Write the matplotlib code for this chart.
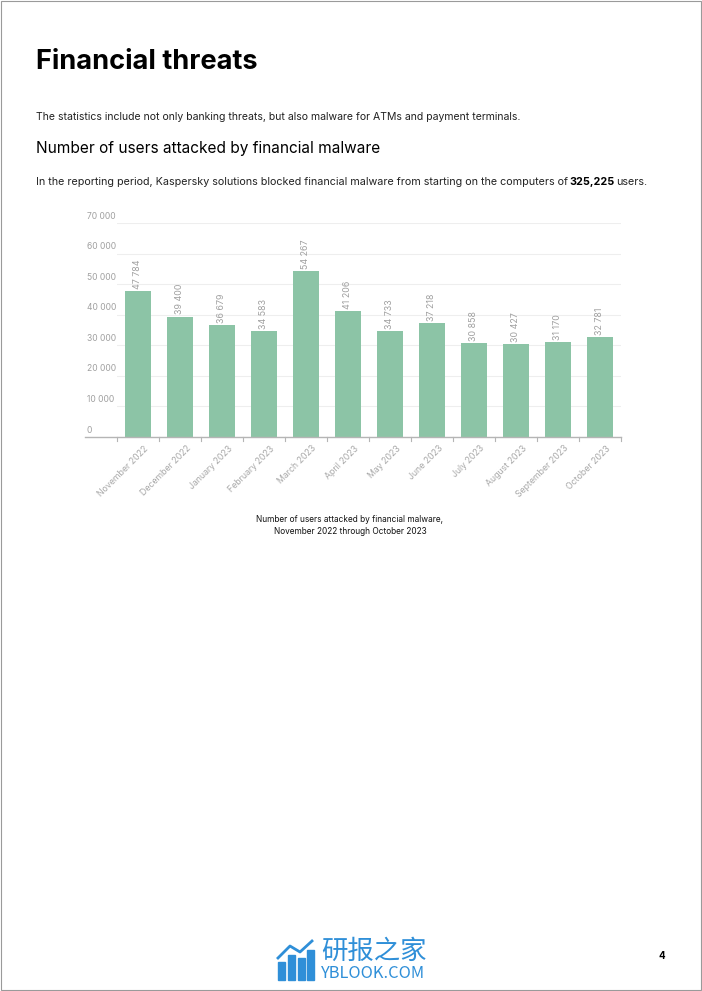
import matplotlib
matplotlib.use("Agg")
import matplotlib.pyplot as plt
from matplotlib.patches import Rectangle
from matplotlib.transforms import blended_transform_factory, ScaledTranslation

months = ["November 2022", "December 2022", "January 2023", "February 2023",
          "March 2023", "April 2023", "May 2023", "June 2023", "July 2023",
          "August 2023", "September 2023", "October 2023"]
users = [47784, 39400, 36679, 34583, 54267, 41206, 34733, 37218, 30858,
         30427, 31170, 32781]
y_ticks = [0, 10000, 20000, 30000, 40000, 50000, 60000, 70000]

W, H = 702, 991
plt.rcParams["font.family"] = ["Inter", "DejaVu Sans"]

fig = plt.figure(figsize=(W / 100, H / 100), dpi=100)
fig.patch.set_facecolor("white")

def fx(px):
    return px / W

def fy(py):
    return 1 - py / H

# page border
fig.add_artist(Rectangle((0.001, 0.001), 0.998, 0.998, transform=fig.transFigure,
                         fill=False, edgecolor="#9a9a9a", lw=0.8))

# header texts
fig.text(fx(36), fy(62), "Financial threats", fontsize=19.6, fontweight="bold",
         va="center", ha="left", color="black")
fig.text(fx(36), fy(117), "The statistics include not only banking threats, but also malware for ATMs and payment terminals.",
         fontsize=7.55, va="center", ha="left", color="#222222")
fig.text(fx(36), fy(148), "Number of users attacked by financial malware",
         fontsize=11.1, va="center", ha="left", color="black")

# sentence with the bold total, pieces chained by their measured width
renderer = fig.canvas.get_renderer()
pieces = [("In the reporting period, Kaspersky solutions blocked financial malware from starting on the computers of", "normal"),
          ("325,225", "bold"),
          ("users.", "normal")]
xpos = fx(36)
for txt, wt in pieces:
    t = fig.text(xpos, fy(182), txt, fontsize=7.75, fontweight=wt,
                 va="center", ha="left", color="#222222" if wt == "normal" else "black")
    bb = t.get_window_extent(renderer=renderer)
    xpos += (bb.width + 1.5) / W

# chart
ax = fig.add_axes([fx(117), fy(437), fx(621) - fx(117), (437 - 223) / H])
x = list(range(len(months)))
ax.bar(x, users, width=0.6, color="#8cc4a6", zorder=2)
ax.set_xlim(-0.5, len(months) - 0.5)
ax.set_ylim(0, 70000)
for s in ax.spines.values():
    s.set_visible(False)
ax.set_yticks(y_ticks)
ax.yaxis.grid(True, color="#eeeeee", lw=0.8, zorder=0)
ax.tick_params(axis="y", length=0, labelleft=False)

# baseline extends under the y labels
ax.plot([-1.27, len(months) - 0.5], [0, 0], color="#b5b5b5", lw=1,
        clip_on=False, zorder=3)

trans = blended_transform_factory(ax.transAxes, ax.transData)
for t in y_ticks:
    ax.text(-0.06, t + 800, f"{t:,}".replace(",", " "), transform=trans,
            ha="left", va="bottom", fontsize=6.1, color="#a0a0a0")

# category ticks at band edges
for i in range(len(months) + 1):
    ax.plot([i - 0.5, i - 0.5], [0, -1400], color="#b5b5b5", lw=0.8,
            clip_on=False)

ax.set_xticks(x)
ax.set_xticklabels(months, rotation=45, ha="right", rotation_mode="anchor",
                   fontsize=6.3, color="#a8a8a8")
ax.tick_params(axis="x", length=0, pad=5)
shift = ScaledTranslation(6 / 100, 0, fig.dpi_scale_trans)
for lab in ax.get_xticklabels():
    lab.set_transform(lab.get_transform() + shift)

for xi, v in zip(x, users):
    ax.text(xi, v + 700, f"{v:,}".replace(",", " "), rotation=90,
            ha="center", va="bottom", fontsize=6.4, color="#a0a0a0")

# caption
fig.text(fx(350), fy(519), "Number of users attacked by financial malware,",
         fontsize=6, ha="center", va="center", color="#111111")
fig.text(fx(350), fy(531), "November 2022 through October 2023",
         fontsize=6, ha="center", va="center", color="#111111")

# watermark
blue = "#2f8fd8"
for bx, btop in [(278, 962), (288, 955), (298, 958), (307, 950)]:
    fig.add_artist(Rectangle((fx(bx), fy(980)), fx(7), (980 - btop) / H,
                             transform=fig.transFigure, color=blue))
fig.add_artist(plt.Line2D([fx(278), fx(290), fx(300), fx(312)],
                          [fy(958), fy(946), fy(952), fy(941)],
                          transform=fig.transFigure, color=blue, lw=2))
fig.text(fx(321), fy(951), "研报之家", fontsize=19, color=blue, ha="left",
         va="center", family=["Noto Sans CJK SC", "DejaVu Sans"])
fig.text(fx(321), fy(973), "YBLOOK.COM", fontsize=11.8, color=blue, ha="left",
         va="center", family=["Noto Sans CJK SC", "DejaVu Sans"])

fig.text(fx(662), fy(956), "4", fontsize=7, fontweight="bold", ha="center",
         va="center", color="black")

fig.savefig("out.png", dpi=100, facecolor="white")
